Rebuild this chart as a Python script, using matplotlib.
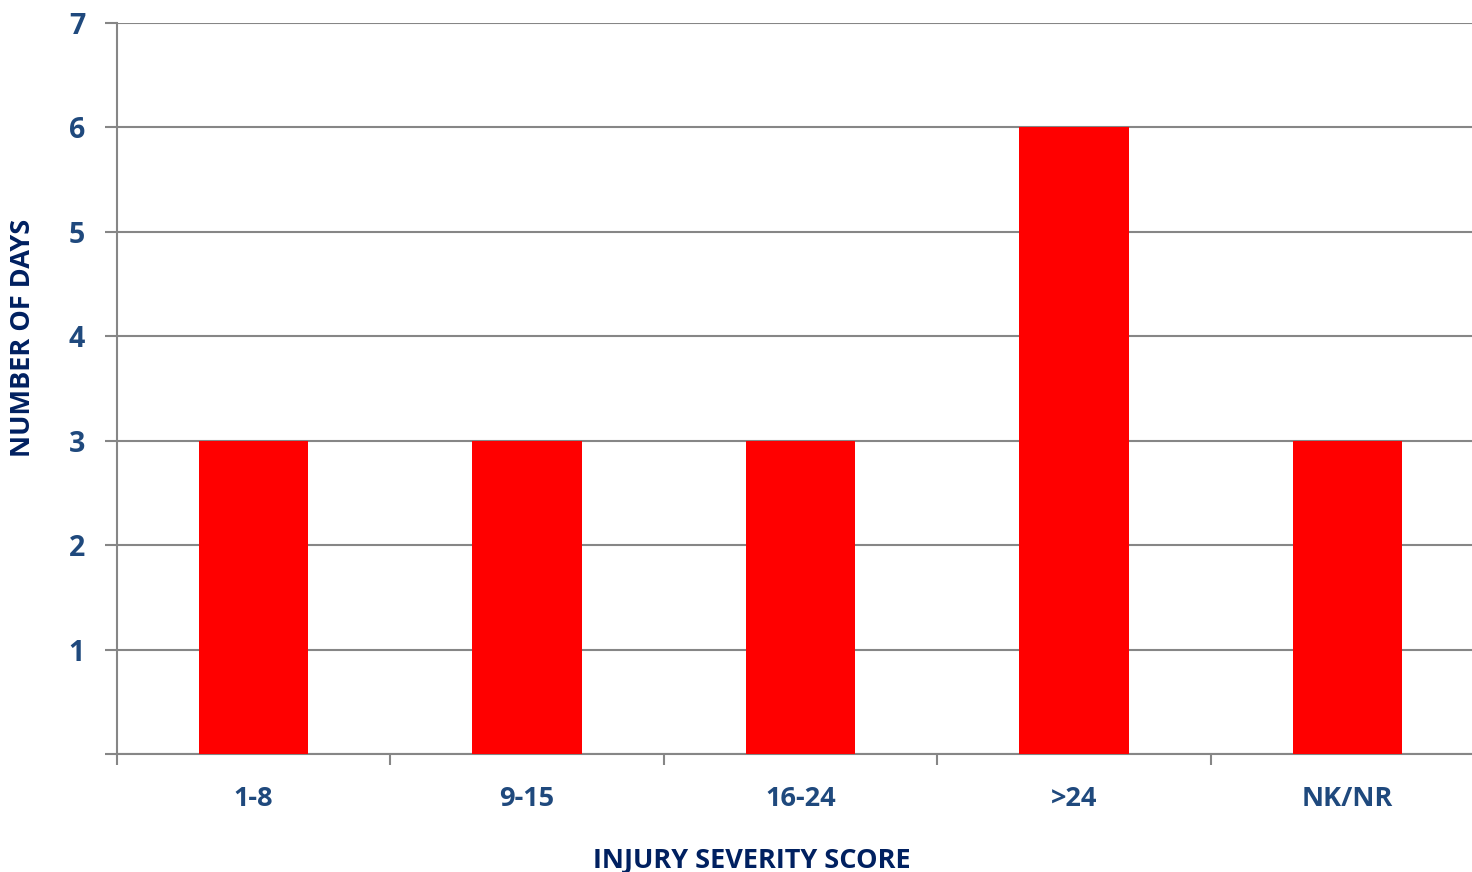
import matplotlib.pyplot as plt
import numpy as np

categories = ['1-8', '9-15', '16-24', '>24', 'NK/NR']
days = [3, 3, 3, 6, 3]
y_ticks = [0, 1, 2, 3, 4, 5, 6, 7]
y_tick_labels = ['', '1', '2', '3', '4', '5', '6', '7']

plt.rcParams['font.family'] = ['Open Sans', 'DejaVu Sans']

W, H = 1472, 872
fig = plt.figure(figsize=(W / 100, H / 100), dpi=100)
ax = fig.add_axes([117 / W, (H - 754) / H, 1367 / W, (754 - 23) / H])

x = np.arange(len(categories))
ax.bar(x, days, width=0.4, color='#FF0000', zorder=3)

ax.set_xlim(-0.5, len(categories) - 0.5)
ax.set_ylim(0, 7)
ax.set_yticks(y_ticks)
ax.set_yticklabels(y_tick_labels)
ax.set_xticks(x)
ax.set_xticklabels(categories)
# tick marks sit on the category boundaries
ax.set_xticks(np.arange(len(categories) + 1) - 0.5, minor=True)
ax.tick_params(axis='x', which='major', length=0, pad=23)
ax.tick_params(axis='x', which='minor', length=8, width=1.5, color='#868686', direction='out')
ax.tick_params(axis='y', length=9, width=1.5, color='#868686', direction='out', pad=14)

for lab in ax.get_xticklabels():
    lab.set_fontsize(19.5)
    lab.set_fontweight('bold')
    lab.set_color('#1F497D')
for lab in ax.get_yticklabels():
    lab.set_fontsize(20.5)
    lab.set_fontweight('bold')
    lab.set_color('#1F497D')

ax.grid(axis='y', color='#868686', linewidth=1.5, zorder=0)
for side in ['top', 'right']:
    ax.spines[side].set_visible(False)
for side in ['left', 'bottom']:
    ax.spines[side].set_color('#868686')
    ax.spines[side].set_linewidth(1.5)

ax.set_xlabel('INJURY SEVERITY SCORE', fontsize=19.5, fontweight='bold', color='#002060')
ax.xaxis.set_label_coords((752 - 117) / 1367, -(848 - 754) / (754 - 23))
fig.text(23 / W, 1 - 338 / H, 'NUMBER OF DAYS', rotation=90, fontsize=19.5, fontweight='bold',
         color='#002060', ha='center', va='center')

plt.savefig('out.png', dpi=100)
